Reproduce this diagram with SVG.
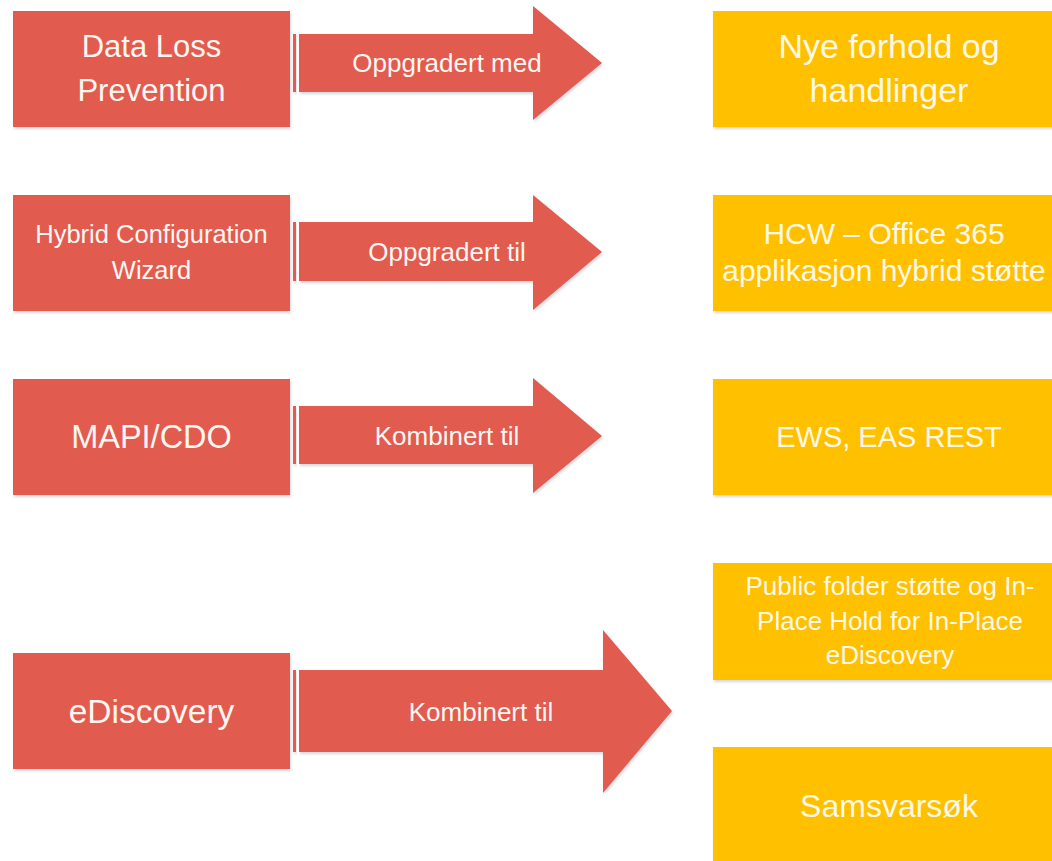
<svg xmlns="http://www.w3.org/2000/svg" width="1052" height="861" viewBox="0 0 1052 861">
<defs>
<filter id="sh" x="-5%" y="-5%" width="115%" height="120%">
<feDropShadow dx="1" dy="2" stdDeviation="1.5" flood-color="#7d8ea0" flood-opacity="0.35"/>
</filter>
<style>
.red{fill:#E15B50;filter:url(#sh)}
.yel{fill:#FFC000;filter:url(#sh)}
.arr{fill:#E15B50;filter:url(#sh)}
text{font-family:"Liberation Sans",Arial,sans-serif;text-anchor:middle;fill:#FFF6F2}
.yt{fill:#FFF8E6}
.big{font-size:31px}
.lab{font-size:26px}
</style>
</defs>
<rect width="1052" height="861" fill="#FFFFFF"/>

<g id="connectors">
<g id="arrow1">
<rect class="arr" x="293" y="34" width="3" height="58"/>
<path class="arr" d="M299,34 H533 V6 L602,63 L533,120 V92 H299 Z"/>
<text class="lab" x="447" y="72">Oppgradert med</text>
</g>
<g id="arrow2">
<rect class="arr" x="293" y="222" width="3" height="59"/>
<path class="arr" d="M299,222 H533 V195 L602,252 L533,310 V281 H299 Z"/>
<text class="lab" x="447" y="261">Oppgradert til</text>
</g>
<g id="arrow3">
<rect class="arr" x="293" y="406" width="3" height="58"/>
<path class="arr" d="M299,406 H533 V378 L602,436 L533,493 V464 H299 Z"/>
<text class="lab" x="447" y="445">Kombinert til</text>
</g>
<g id="arrow4">
<rect class="arr" x="293" y="670" width="3" height="82"/>
<path class="arr" d="M299,670 H603 V630 L672,711 L603,793 V752 H299 Z"/>
<text class="lab" x="481" y="721">Kombinert til</text>
</g>
</g>

<g id="dlp">
<rect class="red" x="13" y="11" width="277" height="116"/>
<text class="big" x="151.5" y="57">Data Loss</text>
<text class="big" x="151.5" y="101">Prevention</text>
</g>
<g id="hcw">
<rect class="red" x="13" y="195" width="277" height="116"/>
<text x="151.5" y="243" font-size="25.5">Hybrid Configuration</text>
<text x="151.5" y="279" font-size="25.5">Wizard</text>
</g>
<g id="mapi">
<rect class="red" x="13" y="379" width="277" height="116"/>
<text x="151.5" y="448" font-size="32.5">MAPI/CDO</text>
</g>
<g id="ediscovery">
<rect class="red" x="13" y="653" width="277" height="116"/>
<text x="151.5" y="723" font-size="33.5">eDiscovery</text>
</g>

<g id="nye">
<rect class="yel" x="713" y="11" width="353" height="116"/>
<text class="yt" x="889" y="58" font-size="34">Nye forhold og</text>
<text class="yt" x="889" y="102" font-size="34">handlinger</text>
</g>
<g id="hcw-office">
<rect class="yel" x="713" y="195" width="353" height="116"/>
<text class="yt" x="884" y="244" font-size="30">HCW – Office 365</text>
<text class="yt" x="884" y="281" font-size="30">applikasjon hybrid støtte</text>
</g>
<g id="ews">
<rect class="yel" x="713" y="379" width="353" height="116"/>
<text class="yt" x="889" y="447" font-size="29">EWS, EAS REST</text>
</g>
<g id="public-folder">
<rect class="yel" x="713" y="563" width="353" height="117"/>
<text class="yt" x="890" y="595" font-size="26">Public folder støtte og In-</text>
<text class="yt" x="890" y="630" font-size="26">Place Hold for In-Place</text>
<text class="yt" x="890" y="664" font-size="26">eDiscovery</text>
</g>
<g id="samsvar">
<rect class="yel" x="713" y="747" width="353" height="120"/>
<text class="yt" x="889" y="817" font-size="32">Samsvarsøk</text>
</g>
</svg>
